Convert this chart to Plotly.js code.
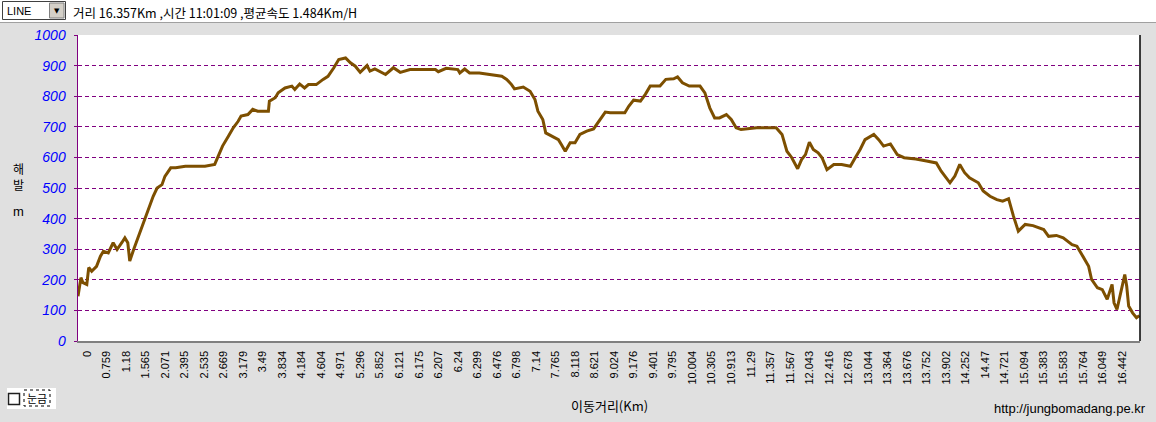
<!DOCTYPE html>
<html>
<head>
<meta charset="utf-8">
<script src="https://cdn.plot.ly/plotly-3.0.1.min.js"></script>
<style>
  html, body { margin: 0; padding: 0; background: #e0e0e0; }
  #chart { width: 1156px; height: 422px; }
</style>
</head>
<body>
<div id="chart"></div>
<script>
// ---- data ----
// sample position along the track (GPS point index, 20 points per distance label)
const pointIndex = [0,3,5,9,11,14,19,23,26,31,36,40,45,48,51,53,57,62,67,72,77,81,86,89,95,100,110,120,130,140,143,148,154,159,164,167,174,179,184,195,196,202,205,212,219,222,227,232,236,244,251,256,262,267,274,279,284,289,296,299,304,315,323,330,340,354,366,369,377,389,391,396,401,411,422,434,439,444,447,456,463,468,471,476,479,485,492,495,499,504,509,514,521,528,535,540,545,552,560,564,569,576,581,586,596,602,610,614,619,626,637,642,647,652,657,664,669,674,679,695,715,721,726,731,737,741,745,749,753,758,762,767,774,782,791,796,801,806,815,820,825,832,839,846,858,869,879,884,893,898,903,908,913,922,927,934,941,947,953,958,963,970,978,989,994,1002,1009,1018,1023,1028,1035,1038,1044,1049,1054,1059,1061,1064,1068,1072,1074,1076,1080,1084,1087];
// elevation (m)
const elevation = [146,207,191,185,240,228,244,277,293,288,321,299,322,337,321,261,299,342,391,430,473,500,511,538,566,566,571,571,571,577,599,637,669,697,718,735,740,757,751,751,784,795,811,827,833,822,840,827,838,838,855,865,893,920,925,909,898,878,900,882,889,871,893,878,887,887,887,880,891,887,876,889,876,876,871,865,855,838,824,830,816,789,751,724,680,671,658,642,620,648,648,675,686,693,724,748,746,746,746,767,787,784,806,833,833,855,857,863,844,833,833,811,762,729,729,740,724,697,691,697,697,675,620,599,563,593,609,650,626,615,599,560,577,577,571,599,626,658,675,658,637,644,609,599,595,588,582,555,517,539,577,550,533,517,490,473,462,457,465,408,359,381,377,364,342,345,337,315,310,283,244,201,174,168,136,185,125,103,158,217,179,114,92,76,83];
// distance labels (km) shown along the x axis
const distanceLabels = ["0","0.759","1.18","1.565","2.071","2.395","2.535","2.669","3.179","3.49","3.834","4.184","4.604","4.971","5.296","5.852","6.121","6.175","6.207","6.24","6.299","6.476","6.798","7.14","7.765","8.118","8.621","9.024","9.176","9.401","9.795","10.004","10.305","10.913","11.29","11.357","11.567","12.043","12.416","12.678","13.044","13.364","13.676","13.752","13.902","14.252","14.47","14.721","15.094","15.383","15.583","15.764","16.049","16.442"];
const yTicks = [0,100,200,300,400,500,600,700,800,900,1000];
const headerText = "거리 16.357Km ,시간 11:01:09 ,평균속도 1.484Km/H";

// ---- layout helpers (pixel -> paper) ----
const W = 1156, H = 422;
const M = {l: 78, r: 16, t: 35, b: 81};
const PW = W - M.l - M.r, PH = H - M.t - M.b;
const px = p => (p - M.l) / PW;
const py = p => (H - M.b - p) / PH;
const POINTS_PER_LABEL = 20, LABEL_SHIFT = 9.2;
const tickvals = distanceLabels.map((_, k) => k * POINTS_PER_LABEL + LABEL_SHIFT);

const trace = {
  x: pointIndex, y: elevation, type: 'scatter', mode: 'lines',
  line: {color: '#7d4f00', width: 3}, hoverinfo: 'skip'
};

const shapes = [
  // header bar
  {type:'rect', xref:'paper', yref:'paper', x0:px(0), x1:px(W), y0:py(0), y1:py(22), fillcolor:'#ffffff', line:{width:0}, layer:'above'},
  {type:'line', xref:'paper', yref:'paper', x0:px(0), x1:px(W), y0:py(22.5), y1:py(22.5), line:{color:'#a0a0a0', width:1}, layer:'above'},
  {type:'rect', xref:'paper', yref:'paper', x0:px(2.5), x1:px(65.5), y0:py(1.5), y1:py(19.5), fillcolor:'#ffffff', line:{color:'#404040', width:1}, layer:'above'},
  {type:'rect', xref:'paper', yref:'paper', x0:px(49.5), x1:px(64), y0:py(3), y1:py(18), fillcolor:'#d4d0c8', line:{color:'#808080', width:1}, layer:'above'},
  // right border of plot
  {type:'line', xref:'paper', yref:'paper', x0:1, x1:1, y0:0, y1:1, line:{color:'#000000', width:1.5}, layer:'above'},
  // checkbox panel
  {type:'rect', xref:'paper', yref:'paper', x0:px(7), x1:px(56), y0:py(388), y1:py(409), fillcolor:'#ffffff', line:{width:0}, layer:'above'},
  {type:'rect', xref:'paper', yref:'paper', x0:px(8.5), x1:px(19.5), y0:py(393.5), y1:py(404.5), fillcolor:'#ffffff', line:{color:'#202020', width:1.5}, layer:'above'},
  {type:'rect', xref:'paper', yref:'paper', x0:px(24), x1:px(50), y0:py(390), y1:py(406), fillcolor:'rgba(0,0,0,0)', line:{color:'#000000', width:1, dash:'dot'}, layer:'above'}
];

const ann = (text, x, y, opts) => Object.assign({
  text, xref:'paper', yref:'paper', x:px(x), y:py(y), showarrow:false,
  xanchor:'left', yanchor:'middle',
  font:{family:'Noto Sans CJK KR, Liberation Sans, sans-serif', size:12, color:'#000000'}
}, opts || {});

const annotations = [
  ann('LINE', 5, 10.5, {font:{family:'Liberation Sans, Arial, sans-serif', size:11, color:'#000'}}),
  ann('▼', 56.8, 11, {xanchor:'center', font:{family:'DejaVu Sans, sans-serif', size:7, color:'#000'}}),
  ann(headerText, 71, 12, {font:{family:'Noto Sans CJK KR, sans-serif', size:12.5, color:'#000'}}),
  ann('해<br>발', 18, 176, {xanchor:'center', font:{family:'Noto Sans CJK KR, sans-serif', size:12, color:'#000'}}),
  ann('m', 18, 211, {xanchor:'center', font:{family:'Liberation Sans, sans-serif', size:13, color:'#000'}}),
  ann('이동거리(Km)', 609, 405, {xanchor:'center', font:{family:'Noto Sans CJK KR, sans-serif', size:13, color:'#000'}}),
  ann('http://jungbomadang.pe.kr', 1148, 408, {xanchor:'right', font:{family:'Liberation Sans, Arial, sans-serif', size:13, color:'#000'}}),
  ann('눈금', 37, 398, {xanchor:'center', font:{family:'Noto Sans CJK KR, sans-serif', size:11, color:'#000'}})
];

const layout = {
  width: W, height: H,
  margin: M,
  paper_bgcolor: '#e0e0e0',
  plot_bgcolor: '#ffffff',
  showlegend: false,
  xaxis: {
    range: [0, 1087.6],
    tickmode: 'array', tickvals: tickvals, ticktext: distanceLabels,
    tickangle: -90, ticks: '', ticklabelstandoff: 4,
    tickfont: {family: 'Liberation Sans, Arial, sans-serif', size: 11, color: '#000000'},
    showgrid: false, zeroline: false,
    showline: true, linecolor: '#808080', linewidth: 1.5,
    fixedrange: true
  },
  yaxis: {
    range: [0, 1000],
    tickmode: 'array', tickvals: yTicks,
    ticks: 'outside', ticklen: 3, tickcolor: '#800080', tickwidth: 1,
    tickfont: {family: 'Liberation Sans, Arial, sans-serif', size: 14, color: '#0000ff', style: 'italic'},
    ticklabelstandoff: 5,
    showgrid: true, gridcolor: '#800080', gridwidth: 1, griddash: '4px,3px',
    zeroline: false,
    showline: true, linecolor: '#800080', linewidth: 1.5,
    fixedrange: true
  },
  shapes: shapes,
  annotations: annotations
};

Plotly.newPlot('chart', [trace], layout, {displayModeBar: false, staticPlot: true});
</script>
</body>
</html>
